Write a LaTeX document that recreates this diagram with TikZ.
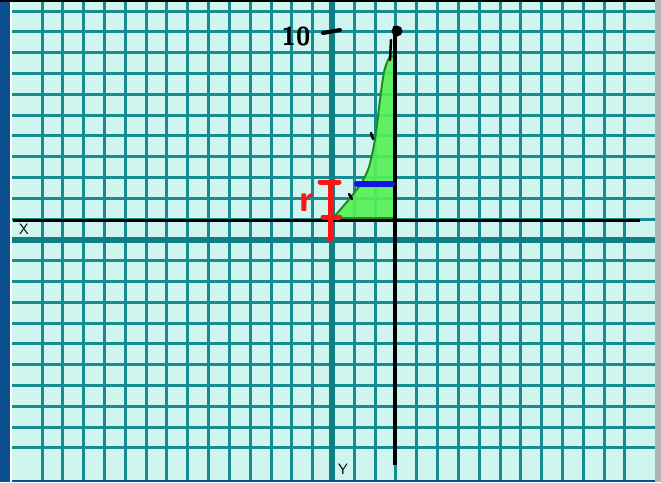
\documentclass[tikz,border=0pt]{standalone}
\usepackage{tikz}
\usetikzlibrary{arrows.meta}
\definecolor{paperblue}{HTML}{0B4F8F}
\definecolor{gridbg}{HTML}{D0F4EE}
\definecolor{gridteal}{HTML}{168C90}
\definecolor{axisteal}{HTML}{0E7F85}
\definecolor{areagreen}{HTML}{55F055}
\definecolor{edgegreen}{HTML}{1E8C1E}
\definecolor{penred}{HTML}{FF1414}
\definecolor{penblue}{HTML}{1414E6}
\tikzset{
  gridline/.style={gridteal, line width=3pt},
  gridaxis/.style={axisteal, line width=6pt},
  penline/.style={line width=5pt, line cap=round},
  axislabel/.style={font=\fontsize{15}{15}\sffamily, inner sep=0pt}
}
\begin{document}
\begin{tikzpicture}[x=1pt, y=-1pt]
\useasboundingbox (0,0) rectangle (661,482);
% Paper and frame
\fill[paperblue] (0,0) rectangle (10,482);
\fill[white] (10,0) rectangle (12,482);
\fill[gridbg] (12,2) rectangle (655,480);
\fill[gray!60] (655,0) rectangle (661,482);
\draw[black, line width=2pt] (0,1) -- (655,1);
\draw[paperblue, line width=2pt] (12,481) -- (655,481);
% Grid
\foreach \i in {0,...,28}
  \draw[gridline] ({42+20.82*\i},2) -- ({42+20.82*\i},480);
\foreach \j in {0,...,21}
  \draw[gridline] (12,{11+20.8*\j}) -- (655,{11+20.8*\j});
\draw[gridaxis] (332,2) -- (332,480);
\draw[gridaxis] (12,240) -- (655,240);
% Shaded region under the curve
\fill[areagreen, opacity=0.9] plot[smooth] coordinates {(334,217) (340,210) (351,197) (362,182) (369,167) (374,145) (377,125) (380,100) (384,72) (389,58) (393,56)}
  -- (394,218) -- cycle;
\draw[edgegreen, line width=2pt] plot[smooth] coordinates {(334,217) (340,210) (351,197) (362,182) (369,167) (374,145) (377,125) (380,100) (384,72) (389,58) (393,56)};
\draw[edgegreen, line width=2pt] (334,218) -- (394,218);
% Ink marks on the curve
\draw[black, line width=2.5pt, line cap=round] (371,133) -- (373,139);
\draw[black, line width=2.5pt, line cap=round] (349,194) -- (352,199);
\draw[black, line width=2.5pt, line cap=round] (391,40) -- (390,60);
% Black axes
\draw[black, line width=3pt] (13,220) -- (640,220);
\draw[black, line width=4pt] (395,26) -- (395,465);
\fill[black] (397,31) circle (5.5);
% Axis labels
\node[axislabel] (xlab) at (24,229) {X};
\node[axislabel] (ylab) at (343,469) {Y};
% Height mark
\node[font=\fontsize{26}{26}\sffamily\bfseries, inner sep=0pt] (ten) at (296,36) {10};
\coordinate (tenend) at (340,30);
\draw[black, line width=4pt, line cap=round] (323,33) -- (tenend);
% Slice at height y
\draw[penblue, line width=6pt, line cap=round] (357,184) -- (392,184);
% Radius r
\coordinate (rtop) at (330,182);
\coordinate (rbot) at (330,243);
\draw[penred, penline, -{Triangle[length=5pt, width=9pt]}] (rtop) -- (rbot);
\draw[penred, penline] (320,182) -- (339,182);
\draw[penred, penline] (323,217) -- (340,217);
\node[penred, font=\fontsize{38}{38}\sffamily\bfseries, inner sep=0pt] (rlab) at (307,203) {r};
\end{tikzpicture}
\end{document}
